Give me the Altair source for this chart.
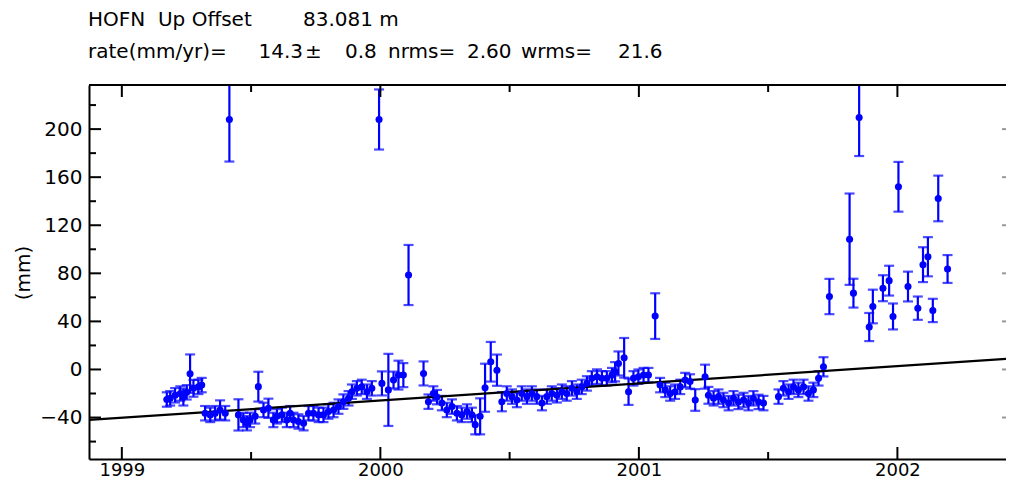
import altair as alt
import pandas as pd

# ---- data (decimal year, mm, 1-sigma error in mm) ----
years = [
    1999.174, 1999.187, 1999.206, 1999.226, 1999.238, 1999.251, 1999.264, 1999.277, 1999.296, 1999.309,
    1999.322, 1999.342, 1999.361, 1999.380, 1999.400, 1999.416, 1999.451, 1999.470, 1999.484, 1999.496,
    1999.516, 1999.528, 1999.548, 1999.567, 1999.586, 1999.600, 1999.619, 1999.638, 1999.651, 1999.664,
    1999.683, 1999.703, 1999.722, 1999.741, 1999.761, 1999.780, 1999.799, 1999.819, 1999.838, 1999.857,
    1999.877, 1999.890, 1999.909, 1999.928, 1999.948, 1999.967, 1999.995, 2000.006, 2000.031, 2000.051,
    2000.070, 2000.089, 2000.109, 2000.167, 2000.186, 2000.205, 2000.219, 2000.238, 2000.257, 2000.277,
    2000.296, 2000.315, 2000.335, 2000.354, 2000.367, 2000.386, 2000.405, 2000.427, 2000.451, 2000.470,
    2000.489, 2000.509, 2000.528, 2000.547, 2000.567, 2000.586, 2000.605, 2000.625, 2000.644, 2000.663,
    2000.683, 2000.702, 2000.721, 2000.741, 2000.760, 2000.779, 2000.799, 2000.818, 2000.838, 2000.857,
    2000.876, 2000.896, 2000.908, 2000.921, 2000.943, 2000.960, 2000.979, 2000.998, 2001.018, 2001.037,
    2001.063, 2001.082, 2001.102, 2001.121, 2001.140, 2001.160, 2001.179, 2001.198, 2001.218, 2001.256,
    2001.269, 2001.289, 2001.308, 2001.327, 2001.347, 2001.366, 2001.385, 2001.405, 2001.424, 2001.443,
    2001.463, 2001.482, 2001.540, 2001.559, 2001.579, 2001.598, 2001.617, 2001.637, 2001.656, 2001.675,
    2001.695, 2001.714, 2001.737, 2001.815, 2001.830, 2001.852, 2001.891, 2001.905, 2001.944, 2001.968,
    2001.983, 2002.004, 2002.041, 2002.079, 2002.099, 2002.118, 2002.137, 2002.158, 2002.194,
]
values_mm = [
    -25.0, -24.0, -21.5, -20.0, -23.0, -19.0, -3.5, -15.7, -14.5, -13.0,
    -36.4, -37.8, -36.4, -33.7, -36.4, 208.0, -37.8, -42.0, -44.7, -42.0,
    -39.0, -14.3, -33.7, -32.3, -42.0, -39.0, -37.8, -42.0, -36.4, -42.0,
    -43.3, -44.7, -36.4, -36.4, -37.8, -37.8, -35.0, -33.7, -30.9, -26.8,
    -24.0, -18.5, -15.7, -14.5, -18.5, -15.7, 208.0, -11.6, -17.0, -8.8,
    -4.7, -4.7, 78.6, -3.3, -26.8, -20.0, -23.0, -28.0, -33.7, -30.9,
    -36.4, -37.8, -35.0, -37.8, -46.0, -39.0, -15.2, 6.4, -0.6, -26.8,
    -20.0, -22.6, -25.4, -20.0, -22.6, -20.0, -22.6, -28.0, -22.6, -20.0,
    -21.5, -18.5, -20.0, -15.7, -18.5, -14.5, -11.6, -7.4, -6.0, -7.4,
    -7.4, -4.7, -1.9, 5.0, 9.7, -18.5, -7.4, -6.0, -4.7, -4.7,
    44.4, -13.0, -17.0, -20.0, -18.5, -14.5, -8.8, -10.0, -25.4, -6.0,
    -21.5, -24.0, -22.6, -25.4, -28.0, -24.0, -27.0, -25.4, -28.0, -24.0,
    -27.0, -28.0, -22.6, -15.7, -18.5, -14.5, -17.0, -14.5, -20.0, -17.0,
    -7.4, 2.2, 60.7, 108.4, 63.5, 209.6, 35.3, 52.4, 67.6, 73.9,
    44.1, 152.0, 69.0, 51.0, 87.2, 93.8, 49.1, 142.3, 83.6,
]
errors_mm = [
    6, 6, 6, 6, 7, 6, 16, 7, 6, 6,
    6, 6, 6, 8, 6, 35, 13, 6, 6, 6,
    6, 12.4, 6, 8, 6, 6, 6, 6, 6, 6,
    6, 6, 6, 6, 6, 6, 6, 6, 6, 6,
    6, 6, 6, 6, 6, 6, 25, 10, 30, 7,
    12, 10, 25, 10, 6, 6, 6, 6, 6, 6,
    6, 6, 6, 6, 8, 15, 20, 16.5, 13, 8,
    6, 6, 6, 6, 6, 6, 6, 6, 6, 6,
    6, 6, 6, 6, 6, 6, 6, 6, 6, 6,
    6, 6, 8, 10, 16.5, 11, 6, 6, 6, 6,
    19, 6, 6, 6, 6, 6, 6, 6, 9, 10,
    7, 6, 6, 6, 6, 6, 6, 6, 6, 6,
    6, 6, 6, 6, 6, 6, 6, 6, 6, 6,
    6, 8, 14.7, 38, 12, 32, 11.7, 14, 10.8, 12.4,
    10.8, 20.7, 12.4, 9.7, 14.5, 16.3, 9.7, 19, 11.6,
]

# linear trend (rate 14.3 mm/yr), evaluated at the plot edges
trend_years = [1998.873, 2002.451]
trend_mm = [-42.0, 9.2]

x_major_ticks = [1999, 2000, 2001, 2002]
x_minor_ticks = [1999.5, 2000.5, 2001.5]
y_major_ticks = [-40, 0, 40, 80, 120, 160, 200]
y_minor_ticks = [-60, -20, 20, 60, 100, 140, 180, 220]

X_DOMAIN = [1998.873, 2002.451]
Y_DOMAIN = [-74.5, 236.7]
W, H = 925, 374
BLUE = "#0000ff"
FONT = "DejaVu Sans"
FS = 20

df = pd.DataFrame({"year": years, "mm": values_mm, "err": errors_mm})
df["lo"] = df["mm"] - df["err"]
df["hi"] = df["mm"] + df["err"]
trend = pd.DataFrame({"year": trend_years, "mm": trend_mm})

xs = alt.Scale(domain=X_DOMAIN, nice=False, zero=False)
ys = alt.Scale(domain=Y_DOMAIN, nice=False, zero=False)

base = alt.Chart(df)

errbars = base.mark_rule(color=BLUE, strokeWidth=2.2, clip=True).encode(
    x=alt.X("year:Q", scale=xs,
            axis=alt.Axis(values=x_major_ticks, format="d", ticks=False, grid=False,
                          domain=True, domainColor="black", domainWidth=2,
                          labelFont=FONT, labelFontSize=18, labelColor="black",
                          labelPadding=2, title=None)),
    y=alt.Y("lo:Q", scale=ys,
            axis=alt.Axis(values=y_major_ticks, ticks=False, grid=False,
                          domain=True, domainColor="black", domainWidth=2,
                          labelFont=FONT, labelFontSize=FS, labelColor="black",
                          labelPadding=7, title=None)),
    y2="hi:Q",
)
cap_lo = base.mark_tick(color=BLUE, orient="horizontal", size=10, thickness=2.2, clip=True).encode(
    x=alt.X("year:Q", scale=xs), y=alt.Y("lo:Q", scale=ys))
cap_hi = base.mark_tick(color=BLUE, orient="horizontal", size=10, thickness=2.2, clip=True).encode(
    x=alt.X("year:Q", scale=xs), y=alt.Y("hi:Q", scale=ys))
dots = base.mark_circle(color=BLUE, size=50, opacity=1, clip=True).encode(
    x=alt.X("year:Q", scale=xs), y=alt.Y("mm:Q", scale=ys))

trend_line = alt.Chart(trend).mark_line(color="black", strokeWidth=2.2, clip=True).encode(
    x=alt.X("year:Q", scale=xs), y=alt.Y("mm:Q", scale=ys))

# frame top line
top_line = alt.Chart(pd.DataFrame({"a": [0]})).mark_rule(color="black", strokeWidth=2).encode(
    x=alt.value(0), x2=alt.value(W), y=alt.value(0))

def xticks(vals, length):
    d = pd.DataFrame({"t": vals})
    bot = alt.Chart(d).mark_rule(color="black", strokeWidth=2).encode(
        x=alt.X("t:Q", scale=xs), y=alt.value(H), y2=alt.value(H - length))
    top = alt.Chart(d).mark_rule(color="black", strokeWidth=2).encode(
        x=alt.X("t:Q", scale=xs), y=alt.value(0), y2=alt.value(length))
    return [bot, top]

def yticks(vals, length):
    d = pd.DataFrame({"t": vals})
    left = alt.Chart(d).mark_rule(color="black", strokeWidth=2).encode(
        y=alt.Y("t:Q", scale=ys), x=alt.value(0), x2=alt.value(length))
    return [left]

right_ticks = alt.Chart(pd.DataFrame({"t": y_major_ticks})).mark_rule(
    color="#999999", strokeWidth=2).encode(
    y=alt.Y("t:Q", scale=ys), x=alt.value(W - 12), x2=alt.value(W - 8))

# header texts: (text, x, y, align)
header = [
    ("HOFN\u00a0\u00a0Up Offset", -1, -59, "left"),
    ("83.081 m", 214, -59, "left"),
    ("rate(mm/yr)=", -1, -27, "left"),
    ("14.3", 214, -27, "right"),
    ("\u00b1", 216, -27, "left"),
    ("0.8", 256, -27, "left"),
    ("nrms=", 299, -27, "left"),
    ("2.60", 378, -27, "left"),
    ("wrms=", 432, -27, "left"),
    ("21.6", 529, -27, "left"),
]
texts = []
for t, x, y, al in header:
    texts.append(alt.Chart(pd.DataFrame({"a": [0]})).mark_text(
        text=t, font=FONT, fontSize=FS, color="black", align=al, baseline="alphabetic"
    ).encode(x=alt.value(x), y=alt.value(y)))

ytitle = alt.Chart(pd.DataFrame({"a": [0]})).mark_text(
    text="(mm)", font=FONT, fontSize=FS, color="black", angle=270,
    align="center", baseline="middle").encode(x=alt.value(-65), y=alt.value(188))

layers = [errbars, cap_lo, cap_hi, trend_line, dots, top_line, right_ticks, ytitle]
layers += xticks(x_major_ticks, 12) + xticks(x_minor_ticks, 7)
layers += yticks(y_major_ticks, 12) + yticks(y_minor_ticks, 7)
layers += texts

chart = alt.layer(*layers).properties(
    width=W, height=H,
    autosize=alt.AutoSizeParams(type="none"),
    padding={"left": 81, "top": 77, "right": -8, "bottom": 19},
    background="white",
).configure_view(stroke=None)

chart.save("out.html", embed_options={"renderer": "svg", "actions": False})
